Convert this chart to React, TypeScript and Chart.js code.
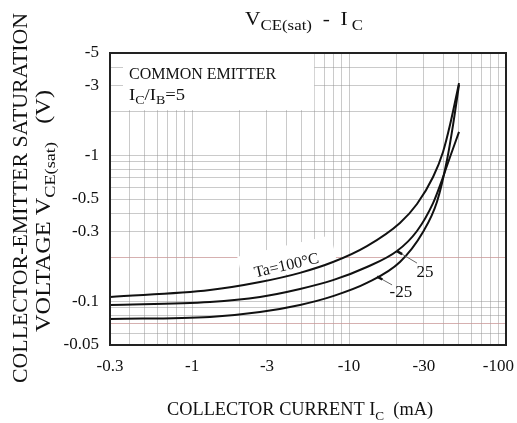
import React, { useEffect, useRef } from 'react';
import { Chart, registerables } from 'chart.js';

Chart.register(...registerables);

const SERIF = "'Liberation Serif', 'Times New Roman', serif";

// Collector current magnitude (mA) and VCE(sat) magnitude (V)
const ic100 = [0.3, 1.3, 2.71, 4.87, 7.9, 13.0, 21.1, 27.1, 34.3, 39.7, 44.0, 50.2];
const vce100 = [0.1067, 0.119, 0.135, 0.156, 0.185, 0.238, 0.343, 0.462, 0.707, 1.05, 1.61, 3.11];

const ic25 = [0.3, 1.3, 2.71, 4.87, 7.9, 13.0, 20.2, 27.1, 34.3, 39.1, 44.0, 50.2];
const vce25 = [0.094, 0.0985, 0.1067, 0.121, 0.139, 0.171, 0.22, 0.302, 0.469, 0.675, 0.97, 1.44];

const icM25 = [0.3, 1.3, 2.71, 4.87, 7.9, 13.0, 21.1, 29.6, 36.3, 42.1, 46.0, 50.2];
const vceM25 = [0.0754, 0.0778, 0.0841, 0.094, 0.108, 0.133, 0.185, 0.297, 0.477, 0.925, 1.61, 3.02];

const xTickValues = [0.3, 1, 3, 10, 30, 100];
const xTickLabels = ['-0.3', '-1', '-3', '-10', '-30', '-100'];
const yTickValues = [0.05, 0.1, 0.3, 0.5, 1, 3, 5];
const yTickLabels = ['-0.05', '-0.1', '-0.3', '-0.5', '-1', '-3', '-5'];

const X_MIN = 0.3;
const X_MAX = 100;
const Y_MIN = 0.05;
const Y_MAX = 5;

const taLabel = { text: 'Ta=100°C', ic: 4.0, vce: 0.174 };
const label25 = { text: '25', ic: 30.5, vce: 0.158, fromIc: 27.1, fromVce: 0.182, toIc: 20.2, toVce: 0.22 };
const labelM25 = { text: '-25', ic: 21.4, vce: 0.115, fromIc: 18.8, fromVce: 0.129, toIc: 15.1, toVce: 0.147 };

type Seg = [string, boolean];

function gridValues(min: number, max: number): number[] {
  const out: number[] = [];
  for (let e = -3; e <= 3; e++) {
    for (let m = 1; m <= 9; m++) {
      const v = Number((m * Math.pow(10, e)).toPrecision(6));
      if (v >= min * (1 - 1e-9) && v <= max * (1 + 1e-9)) out.push(v);
    }
  }
  return out;
}

function labelFor(v: number, values: number[], labels: string[]): string {
  for (let i = 0; i < values.length; i++) {
    if (Math.abs(v - values[i]) / values[i] < 1e-6) return labels[i];
  }
  return '';
}

function richWidth(ctx: CanvasRenderingContext2D, segs: Seg[], size: number, subSize: number) {
  let w = 0;
  for (const [t, sub] of segs) {
    ctx.font = `${sub ? subSize : size}px ${SERIF}`;
    w += ctx.measureText(t).width;
  }
  return w;
}

function drawRich(
  ctx: CanvasRenderingContext2D,
  segs: Seg[],
  x: number,
  baseline: number,
  size: number,
  subSize: number,
  subDy: number,
  align: 'left' | 'center',
  fitWidth?: number
) {
  const w = richWidth(ctx, segs, size, subSize);
  const sx = fitWidth ? fitWidth / w : 1;
  ctx.save();
  ctx.translate(x, baseline);
  ctx.scale(sx, 1);
  let cx = align === 'center' ? -w / 2 : 0;
  ctx.textBaseline = 'alphabetic';
  ctx.textAlign = 'left';
  ctx.fillStyle = '#111';
  for (const [t, sub] of segs) {
    ctx.font = `${sub ? subSize : size}px ${SERIF}`;
    ctx.fillText(t, cx, sub ? subDy : 0);
    cx += ctx.measureText(t).width;
  }
  ctx.restore();
}

const overlayPlugin = {
  id: 'overlay',
  beforeDraw(chart: any) {
    const xs = chart.scales.x;
    const items = xs.getLabelItems(chart.chartArea);
    for (const it of items) {
      if (it.label === '-100') {
        it.options.textAlign = 'right';
        it.options.translation[0] = chart.chartArea.right + 8;
      }
    }
  },
  beforeDatasetsDraw(chart: any) {
    const { ctx, chartArea: a } = chart;
    const x = chart.scales.x;
    const y = chart.scales.y;
    ctx.save();
    ctx.fillStyle = '#fff';
    const bx1 = a.left + 13;
    const bx2 = x.getPixelForValue(6);
    const by2 = y.getPixelForValue(2);
    ctx.fillRect(bx1, a.top, bx2 - bx1, by2 - a.top - 1);
    const px = x.getPixelForValue(taLabel.ic);
    const py = y.getPixelForValue(taLabel.vce);
    ctx.translate(px, py);
    ctx.rotate((-13 * Math.PI) / 180);
    ctx.fillRect(-46, -20, 96, 28);
    ctx.restore();
  },
  afterDatasetsDraw(chart: any) {
    const { ctx } = chart;
    const x = chart.scales.x;
    const y = chart.scales.y;
    ctx.save();
    const px = x.getPixelForValue(taLabel.ic);
    const py = y.getPixelForValue(taLabel.vce);
    ctx.save();
    ctx.translate(px, py);
    ctx.rotate((-13 * Math.PI) / 180);
    ctx.font = `16px ${SERIF}`;
    ctx.fillStyle = '#111';
    ctx.textAlign = 'center';
    ctx.textBaseline = 'middle';
    ctx.fillText(taLabel.text, 0, 0);
    ctx.restore();

    for (const lb of [label25, labelM25]) {
      const fx = x.getPixelForValue(lb.fromIc);
      const fy = y.getPixelForValue(lb.fromVce);
      const tx = x.getPixelForValue(lb.toIc);
      const ty = y.getPixelForValue(lb.toVce);
      ctx.strokeStyle = '#666';
      ctx.lineWidth = 1;
      ctx.beginPath();
      ctx.moveTo(fx, fy);
      ctx.lineTo(tx, ty);
      ctx.stroke();
      const len = Math.hypot(fx - tx, fy - ty);
      const ux = (fx - tx) / len;
      const uy = (fy - ty) / len;
      ctx.strokeStyle = '#111';
      ctx.lineWidth = 2.5;
      ctx.beginPath();
      ctx.moveTo(tx, ty);
      ctx.lineTo(tx + ux * 6, ty + uy * 6);
      ctx.stroke();
      ctx.font = `17px ${SERIF}`;
      ctx.fillStyle = '#111';
      ctx.textAlign = 'center';
      ctx.textBaseline = 'middle';
      ctx.fillText(lb.text, x.getPixelForValue(lb.ic), y.getPixelForValue(lb.vce));
    }
    ctx.restore();
  },
  afterDraw(chart: any) {
    const { ctx, chartArea: a } = chart;
    ctx.save();
    ctx.strokeStyle = '#222';
    ctx.lineWidth = 2;
    ctx.strokeRect(a.left, a.top, a.right - a.left, a.bottom - a.top);

    ctx.font = `16px ${SERIF}`;
    ctx.fillStyle = '#111';
    ctx.textAlign = 'left';
    ctx.textBaseline = 'alphabetic';
    ctx.fillText('COMMON EMITTER', a.left + 19, a.top + 26);
    drawRich(
      ctx,
      [['I', false], ['C', true], ['/I', false], ['B', true], ['=5', false]],
      a.left + 19,
      a.top + 47,
      16,
      12,
      4,
      'left',
      56
    );

    drawRich(
      ctx,
      [['V', false], ['CE(sat)', true], ['  -  ', false], ['I', false], [' C', true]],
      304,
      25,
      19,
      15,
      5,
      'center',
      118
    );

    drawRich(
      ctx,
      [['COLLECTOR CURRENT I', false], ['C', true], ['  (mA)', false]],
      300,
      415,
      18,
      13,
      5,
      'center',
      266
    );

    ctx.save();
    ctx.translate(27, 198);
    ctx.rotate(-Math.PI / 2);
    drawRich(ctx, [['COLLECTOR-EMITTER SATURATION', false]], 0, 0, 20, 14, 5, 'center', 370);
    ctx.restore();
    ctx.save();
    ctx.translate(50, 211);
    ctx.rotate(-Math.PI / 2);
    drawRich(
      ctx,
      [['VOLTAGE V', false], ['CE(sat)', true], ['   (V)', false]],
      0,
      0,
      20,
      15,
      5,
      'center',
      242
    );
    ctx.restore();
    ctx.restore();
  },
};

function gridColor(ctx: any) {
  const v = ctx.tick ? ctx.tick.value : 0;
  if (Math.abs(v - 0.2) < 1e-9 || Math.abs(v - 0.07) < 1e-9) return 'rgba(200,150,150,0.75)';
  return 'rgba(150,150,150,0.5)';
}

export default function App() {
  const ref = useRef<HTMLCanvasElement>(null);

  useEffect(() => {
    const canvas = ref.current;
    if (!canvas) return;
    const mk = (xs: number[], ys: number[], label: string) => ({
      label,
      data: xs.map((v, i) => ({ x: v, y: ys[i] })),
      borderColor: '#111',
      borderWidth: 2,
      pointRadius: 0,
      showLine: true,
      fill: false,
      cubicInterpolationMode: 'monotone' as const,
    });
    const xGrid = gridValues(X_MIN, X_MAX);
    const yGrid = gridValues(Y_MIN, Y_MAX);
    const chart = new Chart(canvas, {
      type: 'scatter',
      data: {
        datasets: [
          mk(ic100, vce100, 'Ta=100°C'),
          mk(ic25, vce25, '25'),
          mk(icM25, vceM25, '-25'),
        ],
      },
      options: {
        responsive: false,
        animation: false,
        devicePixelRatio: 1,
        events: [],
        layout: { padding: { top: 53, right: 11, left: 0, bottom: 0 } },
        plugins: {
          legend: { display: false },
          tooltip: { enabled: false },
          title: { display: false },
        },
        scales: {
          x: {
            type: 'logarithmic',
            min: X_MIN,
            max: X_MAX,
            afterBuildTicks: (s: any) => {
              s.ticks = xGrid.map((v) => ({ value: v }));
            },
            afterFit: (s: any) => {
              s.height = 78;
              s.paddingLeft = 0;
              s.paddingRight = 0;
            },
            ticks: {
              autoSkip: false,
              maxRotation: 0,
              minRotation: 0,
              padding: 11,
              color: '#111',
              font: { family: SERIF, size: 17 },
              callback: (v: any) => labelFor(Number(v), xTickValues, xTickLabels),
            },
            grid: { color: gridColor, lineWidth: 1, drawTicks: false },
            border: { display: false },
          },
          y: {
            type: 'logarithmic',
            min: Y_MIN,
            max: Y_MAX,
            afterBuildTicks: (s: any) => {
              s.ticks = yGrid.map((v) => ({ value: v }));
            },
            afterFit: (s: any) => {
              s.width = 110;
              s.paddingTop = 0;
              s.paddingBottom = 0;
            },
            ticks: {
              autoSkip: false,
              padding: 11,
              color: '#111',
              font: { family: SERIF, size: 17 },
              callback: (v: any) => labelFor(Number(v), yTickValues, yTickLabels),
            },
            grid: { color: gridColor, lineWidth: 1, drawTicks: false },
            border: { display: false },
          },
        },
      } as any,
      plugins: [overlayPlugin],
    });
    return () => chart.destroy();
  }, []);

  return (
    <div style={{ position: 'absolute', left: 0, top: 0, width: 517, height: 423, background: '#fff' }}>
      <canvas ref={ref} width={517} height={423} style={{ display: 'block', width: 517, height: 423 }} />
    </div>
  );
}
